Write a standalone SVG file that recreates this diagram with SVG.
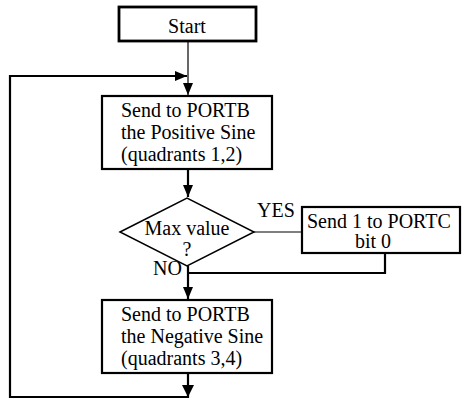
<svg xmlns="http://www.w3.org/2000/svg" width="463" height="405" viewBox="0 0 463 405">
<style>
.box{fill:#fff;stroke:#000;stroke-width:2.2}
.ln{fill:none;stroke:#000;stroke-width:2.2}
.thin{fill:none;stroke:#000;stroke-width:1.2}
</style>
<defs>
<marker id="ah" viewBox="0 0 12 10" refX="12" refY="5" markerWidth="12" markerHeight="10" markerUnits="userSpaceOnUse" orient="auto">
<path d="M0,0 L12,5 L0,10 Z" fill="#000"/>
</marker>
</defs>
<rect width="463" height="405" fill="#fff"/>
<g id="connectors">
<line class="thin" x1="188" y1="41" x2="188" y2="95" marker-end="url(#ah)"/>
<polyline class="ln" points="188,373 188,397 10,397 10,76 187,76" marker-end="url(#ah)"/>
<path d="M182,385 L188,397 L194,385 Z" fill="#000"/>
<line class="ln" x1="188" y1="169" x2="188" y2="197" marker-end="url(#ah)"/>
<line class="thin" x1="254" y1="232" x2="302" y2="232"/>
<polyline class="ln" points="385,253 385,273 188,273"/>
<line class="ln" x1="188" y1="266" x2="188" y2="299" marker-end="url(#ah)"/>
</g>
<g id="start">
<rect x="119" y="7" width="137" height="34" fill="#fff" stroke="#000" stroke-width="2.8"/>
<text x="187" y="33" text-anchor="middle" font-family="'Liberation Serif', serif" font-size="20">Start</text>
</g>
<g id="positive">
<rect class="box" x="102" y="96" width="170" height="73"/>
<text x="121" y="117" font-family="'Liberation Serif', serif" font-size="20">Send to PORTB</text>
<text x="121" y="139" font-family="'Liberation Serif', serif" font-size="20">the Positive Sine</text>
<text x="121" y="161" font-family="'Liberation Serif', serif" font-size="20">(quadrants 1,2)</text>
</g>
<g id="maxvalue">
<polygon points="120,232 187,198 254,232 187,266" fill="#fff" stroke="#000" stroke-width="1.5"/>
<text x="187" y="235" text-anchor="middle" font-family="'Liberation Serif', serif" font-size="20">Max value</text>
<text x="187" y="256" text-anchor="middle" font-family="'Liberation Serif', serif" font-size="20">?</text>
</g>
<text x="257" y="217" font-family="'Liberation Serif', serif" font-size="20">YES</text>
<text x="153" y="275" font-family="'Liberation Serif', serif" font-size="20">NO</text>
<g id="portc">
<rect class="box" x="302" y="207" width="158" height="46"/>
<text x="307" y="228" font-family="'Liberation Serif', serif" font-size="20">Send 1 to PORTC</text>
<text x="373" y="248" text-anchor="middle" font-family="'Liberation Serif', serif" font-size="20">bit 0</text>
</g>
<g id="negative">
<rect class="box" x="102" y="300" width="170" height="73"/>
<text x="121" y="321" font-family="'Liberation Serif', serif" font-size="20">Send to PORTB</text>
<text x="121" y="343" font-family="'Liberation Serif', serif" font-size="20">the Negative Sine</text>
<text x="121" y="365" font-family="'Liberation Serif', serif" font-size="20">(quadrants 3,4)</text>
</g>
</svg>
